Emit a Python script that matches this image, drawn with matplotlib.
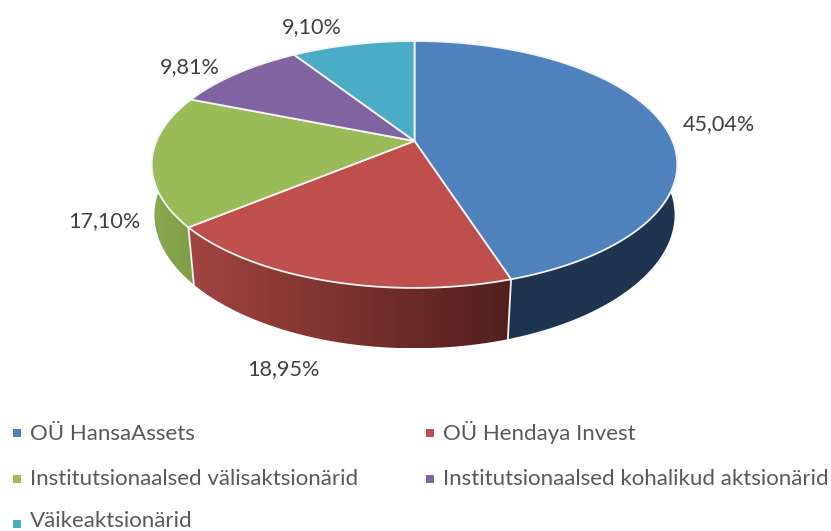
import numpy as np
import matplotlib
matplotlib.use('Agg')
import matplotlib.pyplot as plt
from matplotlib.patches import Polygon, Rectangle
from matplotlib.colors import LinearSegmentedColormap

plt.rcParams['font.family'] = ['Lato', 'DejaVu Sans']

names = ['OÜ HansaAssets', 'OÜ Hendaya Invest', 'Institutsionaalsed välisaktsionärid',
         'Institutsionaalsed kohalikud aktsionärid', 'Väikeaktsionärid']
shares = [45.04, 18.95, 17.10, 9.81, 9.10]
share_labels = ['45,04%', '18,95%', '17,10%', '9,81%', '9,10%']
colors = ['#4F81BD', '#BE4F4C', '#9BBB59', '#8064A2', '#4BACC6']
side_left = ['#1F344F', '#A34441', '#8AA84F', '#8064A2', '#4BACC6']
side_right = ['#1F344F', '#511F1C', '#7F9C48', '#8064A2', '#4BACC6']

label_x = [719, 283, 104, 190, 312]
label_y = [130, 375, 227, 73, 33]
legend_x = [13, 426, 13, 426, 13]
legend_y = [433, 433, 479, 479, 524]
legend_base = [440, 440, 485, 485, 527]

cx, cy = 414.5, 141
A, B, k = 258, 119, -0.19
side_m, side_c = 1.05, 194


def top_xy(t):
    u, v = np.sin(t), -np.cos(t)
    d = 1 + k * v
    return cx + A * u / d, cy + B * v / d


def bottom_xy(t):
    x, y = top_xy(t)
    s = 0.995 - 0.03 * np.maximum(-np.cos(t), 0)
    return cx + (x - cx) * s, side_c + (y - cy) * side_m


fig = plt.figure(figsize=(8.31, 5.31), dpi=100)
ax = fig.add_axes([0, 0, 1, 1])

edges = np.radians(np.concatenate([[0], np.cumsum(shares)]) * 3.6)

# outer wall first, red last so it sits over its neighbours
for i in [0, 2, 1]:
    t = np.linspace(edges[i], edges[i + 1], 150)
    xt, yt = top_xy(t)
    xb, yb = bottom_xy(t)
    pts = np.column_stack([np.r_[xt, xb[::-1]], np.r_[yt, yb[::-1]]])
    poly = Polygon(pts, closed=True, fc='none', ec='none')
    ax.add_patch(poly)
    cmap = LinearSegmentedColormap.from_list('side', [side_left[i], side_right[i]])
    im = ax.imshow(np.linspace(0, 1, 256).reshape(1, -1), cmap=cmap, aspect='auto',
                   extent=[pts[:, 0].min(), pts[:, 0].max(), pts[:, 1].max(), pts[:, 1].min()],
                   zorder=2)
    im.set_clip_path(poly)

# white seams on the wall
for e in [edges[1], edges[2]]:
    xt, yt = top_xy(e)
    xb, yb = bottom_xy(e)
    ax.plot([xt, xb], [yt, yb], color='#F2F2F2', lw=1.3, zorder=3)

# top face
for i in range(len(shares)):
    t = np.linspace(edges[i], edges[i + 1], 200)
    x, y = top_xy(t)
    ax.fill(np.r_[cx, x], np.r_[cy, y], fc=colors[i], ec='#F4F4F4', lw=1.3,
            joinstyle='round', zorder=4)

for i in range(len(shares)):
    ax.text(label_x[i], label_y[i], share_labels[i], ha='center', va='baseline',
            fontsize=15.6, color='#404040', zorder=5)
    ax.add_patch(Rectangle((legend_x[i], legend_y[i] - 4), 8, 8, fc=colors[i], ec='none'))
    ax.text(legend_x[i] + 17, legend_base[i], names[i], ha='left', va='baseline',
            fontsize=16, color='#595959')

ax.set_xlim(0, 831)
ax.set_ylim(531, 0)
ax.axis('off')

fig.savefig('out.png', dpi=100)
